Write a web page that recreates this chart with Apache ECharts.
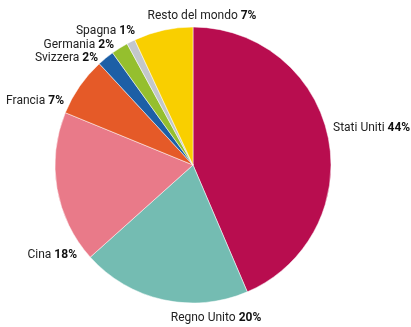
<!DOCTYPE html>
<html><head><meta charset="utf-8">
<script src="https://cdn.jsdelivr.net/npm/echarts@6/dist/echarts.min.js"></script>
<style>html,body{margin:0;padding:0;background:#fff}#c{width:411px;height:327px}</style>
</head><body><div id="c"></div>
<script>
const names = ["Stati Uniti","Regno Unito","Cina","Francia","Svizzera","Germania","Spagna","Resto del mondo"];
const values = [44,20,18,7,2,2,1,7];
const colors = ["#b80d4f","#74bcb2","#e97a89","#e55a28","#1d5fa6","#95bf2e","#c3c7cc","#f9cf00"];
// label anchor positions (layout only)
const labelPos = [[333,128,'left'],[216,318,'center'],[77,255,'right'],[64,101,'right'],[98,58,'right'],[114,45,'right'],[135,31,'right'],[202,16,'center']];
const FF = 'Roboto';
const chart = echarts.init(document.getElementById('c'));
chart.setOption({
  animation:false,
  series:[{
    type:'pie',
    center:[193,165],
    radius:138,
    startAngle:90,
    clockwise:true,
    avoidLabelOverlap:false,
    itemStyle:{borderColor:'#fff',borderWidth:0.5},
    label:{
      show:true,position:'outside',overflow:'none',
      fontFamily:FF,fontSize:12,color:'#222',
      formatter:p=>p.name+' {b|'+p.value+'%}',
      rich:{b:{fontWeight:'bold',fontFamily:FF,fontSize:12,color:'#111'}}
    },
    labelLine:{show:false},
    labelLayout:function(p){
      const lp = labelPos[p.dataIndex];
      return {x:lp[0],y:lp[1],align:lp[2],verticalAlign:'middle'};
    },
    data:names.map((n,i)=>({name:n,value:values[i],itemStyle:{color:colors[i]}}))
  }]
});
</script></body></html>
